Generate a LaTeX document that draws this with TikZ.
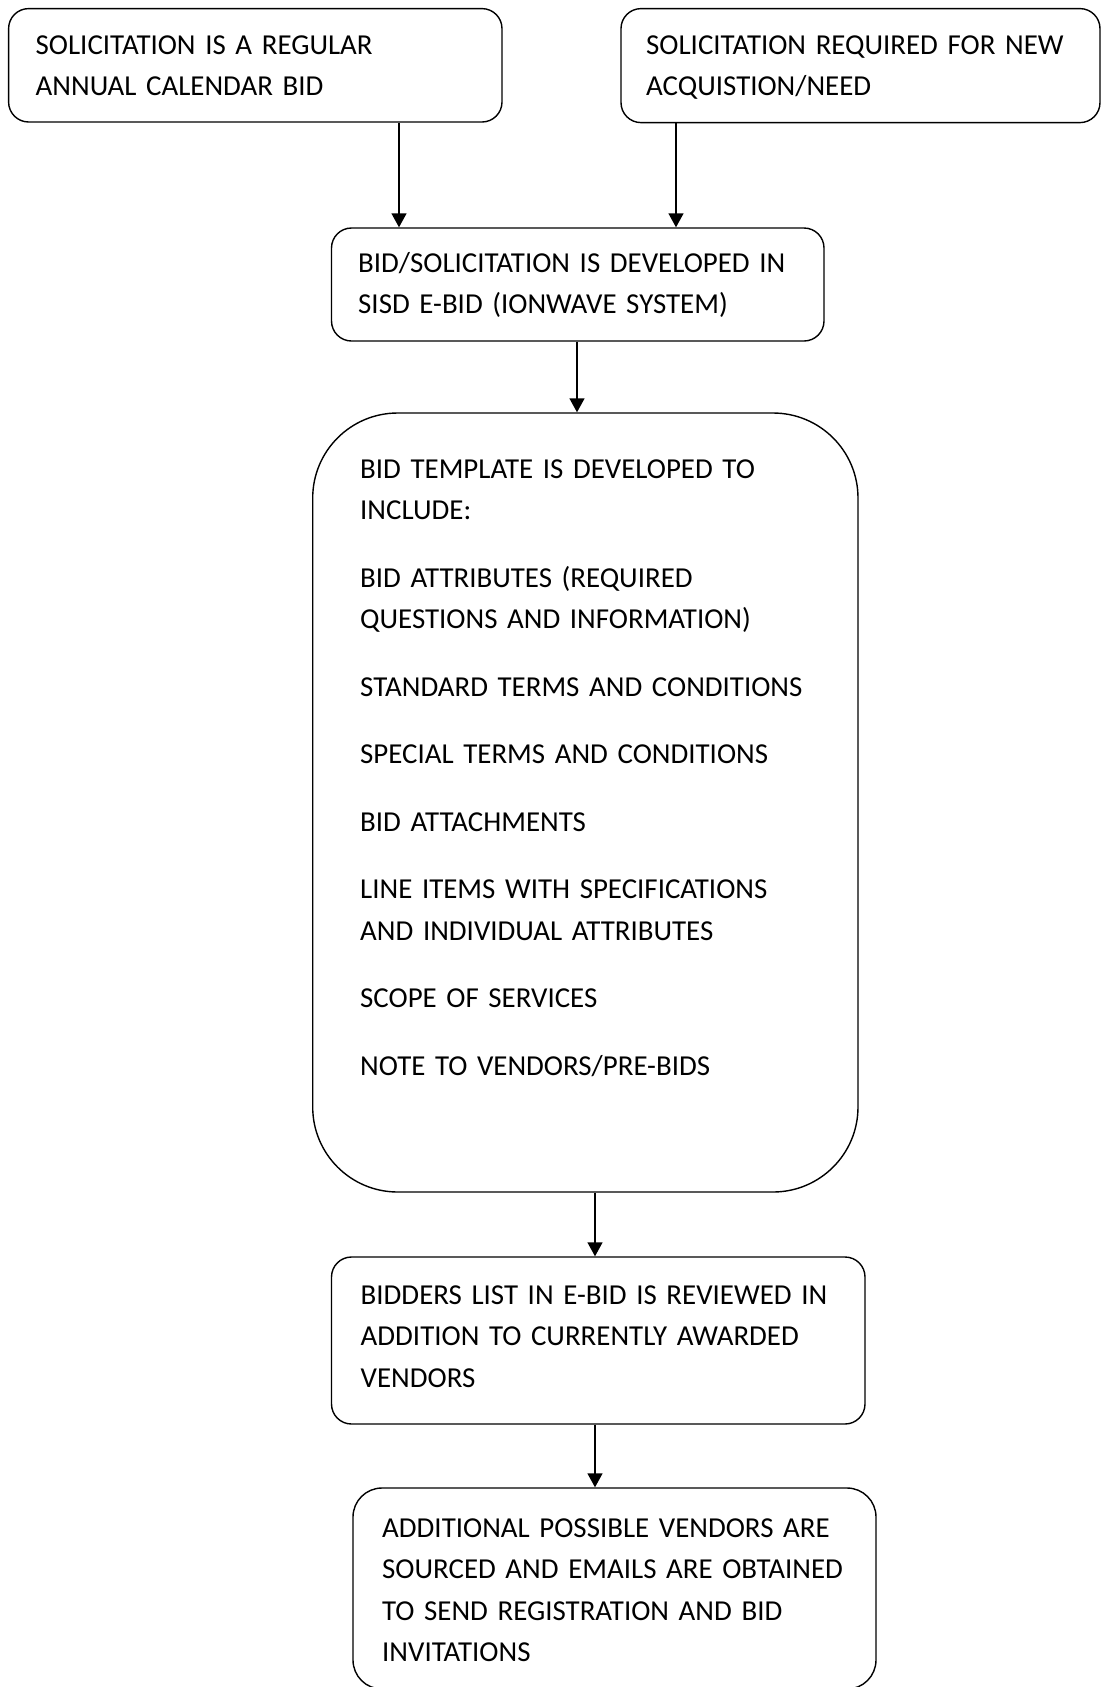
\documentclass[tikz,border=0pt]{standalone}
\usepackage{fontspec}
\setmainfont{Carlito}
\usetikzlibrary{arrows.meta}
\begin{document}
\begin{tikzpicture}[x=1pt,y=-1pt,
  box/.style={draw, line width=1.4pt, rectangle, rounded corners=20pt, inner sep=0pt},
  txt/.style={anchor=base west, inner sep=0pt, text width=560pt, align=left,
    font=\fontsize{28.9}{41.5}\selectfont},
  arr/.style={line width=1.4pt, -{Triangle[length=14pt,width=15pt]}}]
\useasboundingbox (0,0) rectangle (1102,1687);
% boxes
\node[box, minimum width=493.4pt, minimum height=113.4pt] (b1) at (255.3,65.3) {};
\node[box, minimum width=479pt, minimum height=114pt] (b2) at (860.5,65.6) {};
\node[box, minimum width=492.5pt, minimum height=113pt] (b3) at (577.75,284.5) {};
\node[box, rounded corners=85pt, minimum width=545.3pt, minimum height=779pt] (b4) at (585.35,802.5) {};
\node[box, minimum width=533.5pt, minimum height=167pt] (b5) at (598.25,1340.5) {};
\node[box, rounded corners=29pt, minimum width=523pt, minimum height=201pt] (b6) at (614.5,1588.5) {};
% texts
\node[txt] (t1) at (35.5,54) {SOLICITATION IS A REGULAR\\ANNUAL CALENDAR BID};
\node[txt] (t2) at (646,54) {SOLICITATION REQUIRED FOR NEW\\ACQUISTION/NEED};
\node[txt] (t3) at (358,272) {BID/SOLICITATION IS DEVELOPED IN\\SISD E-BID (IONWAVE SYSTEM)};
\node[txt] (t4) at (360,478) {BID TEMPLATE IS DEVELOPED TO\\INCLUDE:\\[26pt]
BID ATTRIBUTES (REQUIRED\\QUESTIONS AND INFORMATION)\\[26pt]
STANDARD TERMS AND CONDITIONS\\[26pt]
SPECIAL TERMS AND CONDITIONS\\[26pt]
BID ATTACHMENTS\\[26pt]
LINE ITEMS WITH SPECIFICATIONS\\AND INDIVIDUAL ATTRIBUTES\\[26pt]
SCOPE OF SERVICES\\[26pt]
NOTE TO VENDORS/PRE-BIDS};
\node[txt] (t5) at (360.5,1304) {BIDDERS LIST IN E-BID IS REVIEWED IN\\ADDITION TO CURRENTLY AWARDED\\VENDORS};
\node[txt] (t6) at (382,1537) {ADDITIONAL POSSIBLE VENDORS ARE\\SOURCED AND EMAILS ARE OBTAINED\\TO SEND REGISTRATION AND BID\\INVITATIONS};
% connector x positions
\coordinate (xa) at (399,0);
\coordinate (xb) at (676,0);
\coordinate (xc) at (577,0);
\coordinate (xd) at (595,0);
\draw[arr] (xa |- b1.south) -- (xa |- b3.north);
\draw[arr] (xb |- b2.south) -- (xb |- b3.north);
\draw[arr] (xc |- b3.south) -- (xc |- b4.north);
\draw[arr] (xd |- b4.south) -- (xd |- b5.north);
\draw[arr] (xd |- b5.south) -- (xd |- b6.north);
\end{tikzpicture}
\end{document}
